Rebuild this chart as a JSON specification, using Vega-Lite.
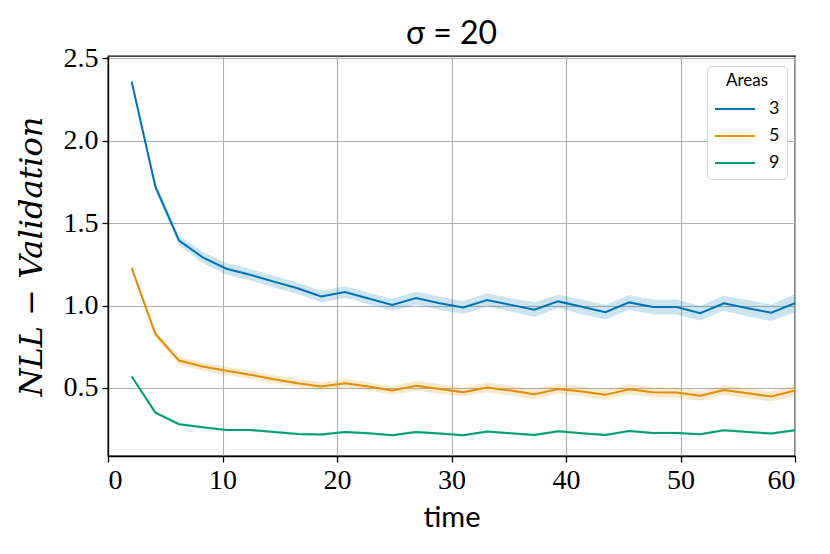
{
  "$schema": "https://vega.github.io/schema/vega-lite/v6.json",
  "autosize": "none",
  "width": 687,
  "height": 400,
  "padding": {"left": 108, "top": 56, "right": 35, "bottom": 98},
  "background": "white",
  "title": {
    "text": "σ  =  20",
    "font": "Lato",
    "fontSize": 32,
    "fontWeight": "normal",
    "color": "black",
    "offset": -7
  },
  "data": {
    "values": [
      {"t": 2.069, "a": "3", "m": 2.358, "lo": 2.338, "hi": 2.378},
      {"t": 4.138, "a": "3", "m": 1.721, "lo": 1.696, "hi": 1.746},
      {"t": 6.207, "a": "3", "m": 1.394, "lo": 1.364, "hi": 1.424},
      {"t": 8.276, "a": "3", "m": 1.292, "lo": 1.257, "hi": 1.327},
      {"t": 10.345, "a": "3", "m": 1.223, "lo": 1.188, "hi": 1.258},
      {"t": 12.414, "a": "3", "m": 1.187, "lo": 1.152, "hi": 1.222},
      {"t": 14.483, "a": "3", "m": 1.145, "lo": 1.110, "hi": 1.180},
      {"t": 16.552, "a": "3", "m": 1.105, "lo": 1.070, "hi": 1.140},
      {"t": 18.621, "a": "3", "m": 1.055, "lo": 1.020, "hi": 1.090},
      {"t": 20.690, "a": "3", "m": 1.082, "lo": 1.047, "hi": 1.117},
      {"t": 22.759, "a": "3", "m": 1.043, "lo": 1.008, "hi": 1.078},
      {"t": 24.828, "a": "3", "m": 1.004, "lo": 0.969, "hi": 1.039},
      {"t": 26.897, "a": "3", "m": 1.045, "lo": 1.005, "hi": 1.085},
      {"t": 28.966, "a": "3", "m": 1.014, "lo": 0.974, "hi": 1.054},
      {"t": 31.034, "a": "3", "m": 0.988, "lo": 0.948, "hi": 1.028},
      {"t": 33.103, "a": "3", "m": 1.034, "lo": 0.994, "hi": 1.074},
      {"t": 35.172, "a": "3", "m": 1.004, "lo": 0.964, "hi": 1.044},
      {"t": 37.241, "a": "3", "m": 0.975, "lo": 0.930, "hi": 1.020},
      {"t": 39.310, "a": "3", "m": 1.025, "lo": 0.985, "hi": 1.065},
      {"t": 41.379, "a": "3", "m": 0.992, "lo": 0.947, "hi": 1.037},
      {"t": 43.448, "a": "3", "m": 0.960, "lo": 0.915, "hi": 1.005},
      {"t": 45.517, "a": "3", "m": 1.019, "lo": 0.974, "hi": 1.064},
      {"t": 47.586, "a": "3", "m": 0.991, "lo": 0.946, "hi": 1.036},
      {"t": 49.655, "a": "3", "m": 0.991, "lo": 0.946, "hi": 1.036},
      {"t": 51.724, "a": "3", "m": 0.954, "lo": 0.909, "hi": 0.999},
      {"t": 53.793, "a": "3", "m": 1.014, "lo": 0.969, "hi": 1.059},
      {"t": 55.862, "a": "3", "m": 0.984, "lo": 0.934, "hi": 1.034},
      {"t": 57.931, "a": "3", "m": 0.956, "lo": 0.906, "hi": 1.006},
      {"t": 60.000, "a": "3", "m": 1.014, "lo": 0.959, "hi": 1.069},
      {"t": 2.069, "a": "5", "m": 1.227, "lo": 1.212, "hi": 1.242},
      {"t": 4.138, "a": "5", "m": 0.828, "lo": 0.808, "hi": 0.848},
      {"t": 6.207, "a": "5", "m": 0.666, "lo": 0.641, "hi": 0.691},
      {"t": 8.276, "a": "5", "m": 0.630, "lo": 0.605, "hi": 0.655},
      {"t": 10.345, "a": "5", "m": 0.604, "lo": 0.579, "hi": 0.629},
      {"t": 12.414, "a": "5", "m": 0.580, "lo": 0.555, "hi": 0.605},
      {"t": 14.483, "a": "5", "m": 0.553, "lo": 0.528, "hi": 0.578},
      {"t": 16.552, "a": "5", "m": 0.529, "lo": 0.504, "hi": 0.554},
      {"t": 18.621, "a": "5", "m": 0.509, "lo": 0.484, "hi": 0.534},
      {"t": 20.690, "a": "5", "m": 0.529, "lo": 0.504, "hi": 0.554},
      {"t": 22.759, "a": "5", "m": 0.509, "lo": 0.484, "hi": 0.534},
      {"t": 24.828, "a": "5", "m": 0.484, "lo": 0.459, "hi": 0.509},
      {"t": 26.897, "a": "5", "m": 0.513, "lo": 0.483, "hi": 0.543},
      {"t": 28.966, "a": "5", "m": 0.494, "lo": 0.464, "hi": 0.524},
      {"t": 31.034, "a": "5", "m": 0.474, "lo": 0.449, "hi": 0.499},
      {"t": 33.103, "a": "5", "m": 0.503, "lo": 0.473, "hi": 0.533},
      {"t": 35.172, "a": "5", "m": 0.484, "lo": 0.454, "hi": 0.514},
      {"t": 37.241, "a": "5", "m": 0.462, "lo": 0.432, "hi": 0.492},
      {"t": 39.310, "a": "5", "m": 0.494, "lo": 0.464, "hi": 0.524},
      {"t": 41.379, "a": "5", "m": 0.478, "lo": 0.448, "hi": 0.508},
      {"t": 43.448, "a": "5", "m": 0.458, "lo": 0.428, "hi": 0.488},
      {"t": 45.517, "a": "5", "m": 0.492, "lo": 0.462, "hi": 0.522},
      {"t": 47.586, "a": "5", "m": 0.474, "lo": 0.444, "hi": 0.504},
      {"t": 49.655, "a": "5", "m": 0.472, "lo": 0.442, "hi": 0.502},
      {"t": 51.724, "a": "5", "m": 0.452, "lo": 0.422, "hi": 0.482},
      {"t": 53.793, "a": "5", "m": 0.488, "lo": 0.458, "hi": 0.518},
      {"t": 55.862, "a": "5", "m": 0.468, "lo": 0.438, "hi": 0.498},
      {"t": 57.931, "a": "5", "m": 0.448, "lo": 0.418, "hi": 0.478},
      {"t": 60.000, "a": "5", "m": 0.484, "lo": 0.449, "hi": 0.519},
      {"t": 2.069, "a": "9", "m": 0.569, "lo": 0.561, "hi": 0.577},
      {"t": 4.138, "a": "9", "m": 0.350, "lo": 0.342, "hi": 0.358},
      {"t": 6.207, "a": "9", "m": 0.280, "lo": 0.272, "hi": 0.288},
      {"t": 8.276, "a": "9", "m": 0.261, "lo": 0.253, "hi": 0.269},
      {"t": 10.345, "a": "9", "m": 0.245, "lo": 0.237, "hi": 0.253},
      {"t": 12.414, "a": "9", "m": 0.245, "lo": 0.237, "hi": 0.253},
      {"t": 14.483, "a": "9", "m": 0.233, "lo": 0.225, "hi": 0.241},
      {"t": 16.552, "a": "9", "m": 0.221, "lo": 0.213, "hi": 0.229},
      {"t": 18.621, "a": "9", "m": 0.217, "lo": 0.209, "hi": 0.225},
      {"t": 20.690, "a": "9", "m": 0.233, "lo": 0.225, "hi": 0.241},
      {"t": 22.759, "a": "9", "m": 0.225, "lo": 0.217, "hi": 0.233},
      {"t": 24.828, "a": "9", "m": 0.213, "lo": 0.205, "hi": 0.221},
      {"t": 26.897, "a": "9", "m": 0.233, "lo": 0.225, "hi": 0.241},
      {"t": 28.966, "a": "9", "m": 0.223, "lo": 0.215, "hi": 0.231},
      {"t": 31.034, "a": "9", "m": 0.213, "lo": 0.205, "hi": 0.221},
      {"t": 33.103, "a": "9", "m": 0.235, "lo": 0.227, "hi": 0.243},
      {"t": 35.172, "a": "9", "m": 0.225, "lo": 0.217, "hi": 0.233},
      {"t": 37.241, "a": "9", "m": 0.215, "lo": 0.207, "hi": 0.223},
      {"t": 39.310, "a": "9", "m": 0.237, "lo": 0.229, "hi": 0.245},
      {"t": 41.379, "a": "9", "m": 0.225, "lo": 0.217, "hi": 0.233},
      {"t": 43.448, "a": "9", "m": 0.215, "lo": 0.207, "hi": 0.223},
      {"t": 45.517, "a": "9", "m": 0.239, "lo": 0.231, "hi": 0.247},
      {"t": 47.586, "a": "9", "m": 0.227, "lo": 0.219, "hi": 0.235},
      {"t": 49.655, "a": "9", "m": 0.227, "lo": 0.219, "hi": 0.235},
      {"t": 51.724, "a": "9", "m": 0.219, "lo": 0.211, "hi": 0.227},
      {"t": 53.793, "a": "9", "m": 0.243, "lo": 0.235, "hi": 0.251},
      {"t": 55.862, "a": "9", "m": 0.233, "lo": 0.225, "hi": 0.241},
      {"t": 57.931, "a": "9", "m": 0.223, "lo": 0.215, "hi": 0.231},
      {"t": 60.000, "a": "9", "m": 0.243, "lo": 0.235, "hi": 0.251}
    ]
  },
  "encoding": {
    "x": {
      "field": "t",
      "type": "quantitative",
      "title": "time",
      "scale": {"domain": [0, 60], "nice": false, "zero": false},
      "axis": {
        "values": [0, 10, 20, 30, 40, 50, 60],
        "titleFont": "Lato",
        "titleFontSize": 29,
        "titleFontWeight": "normal",
        "titlePadding": 9
      }
    },
    "color": {
      "field": "a",
      "type": "nominal",
      "title": "Areas",
      "scale": {"domain": ["3", "5", "9"], "range": ["#0173b2", "#de8f05", "#029e73"]},
      "legend": {
        "orient": "none",
        "legendX": 599,
        "legendY": 10,
        "symbolType": "M-1,0H3",
        "symbolSize": 400,
        "symbolStrokeWidth": 2,
        "symbolOpacity": 1,
        "fillColor": "white",
        "strokeColor": "#d0d0d0",
        "cornerRadius": 4,
        "padding": 7,
        "rowPadding": 7,
        "titlePadding": 8,
        "labelOffset": 33,
        "titleAnchor": "middle",
        "titleAlign": "center"
      }
    }
  },
  "layer": [
    {
      "mark": {"type": "area", "opacity": 0.2, "clip": true},
      "encoding": {
        "y": {"field": "lo", "type": "quantitative"},
        "y2": {"field": "hi"}
      }
    },
    {
      "mark": {"type": "line", "strokeWidth": 2, "clip": true},
      "encoding": {
        "y": {
          "field": "m",
          "type": "quantitative",
          "title": "NLL − Validation",
          "scale": {"domain": [0.087, 2.514], "nice": false, "zero": false},
          "axis": {
            "values": [0.5, 1.0, 1.5, 2.0, 2.5],
            "format": ".1f",
            "titleFont": "DejaVu Serif",
            "titleFontStyle": "italic",
            "titleFontWeight": "normal",
            "titleFontSize": 32,
            "titlePadding": 15
          }
        }
      }
    }
  ],
  "config": {
    "view": {"stroke": "black", "strokeWidth": 1.3},
    "axis": {
      "domainColor": "black",
      "domainWidth": 1.3,
      "tickColor": "black",
      "tickWidth": 1.3,
      "tickSize": 6,
      "grid": true,
      "gridColor": "#b0b0b0",
      "gridWidth": 1.1,
      "labelFont": "Liberation Serif",
      "labelFontSize": 28,
      "labelColor": "black",
      "titleColor": "black",
      "labelPadding": 4
    },
    "legend": {
      "titleFont": "Lato",
      "titleFontSize": 17,
      "titleFontWeight": "normal",
      "titleColor": "black",
      "labelFont": "Lato",
      "labelFontSize": 18,
      "labelColor": "black"
    }
  }
}
